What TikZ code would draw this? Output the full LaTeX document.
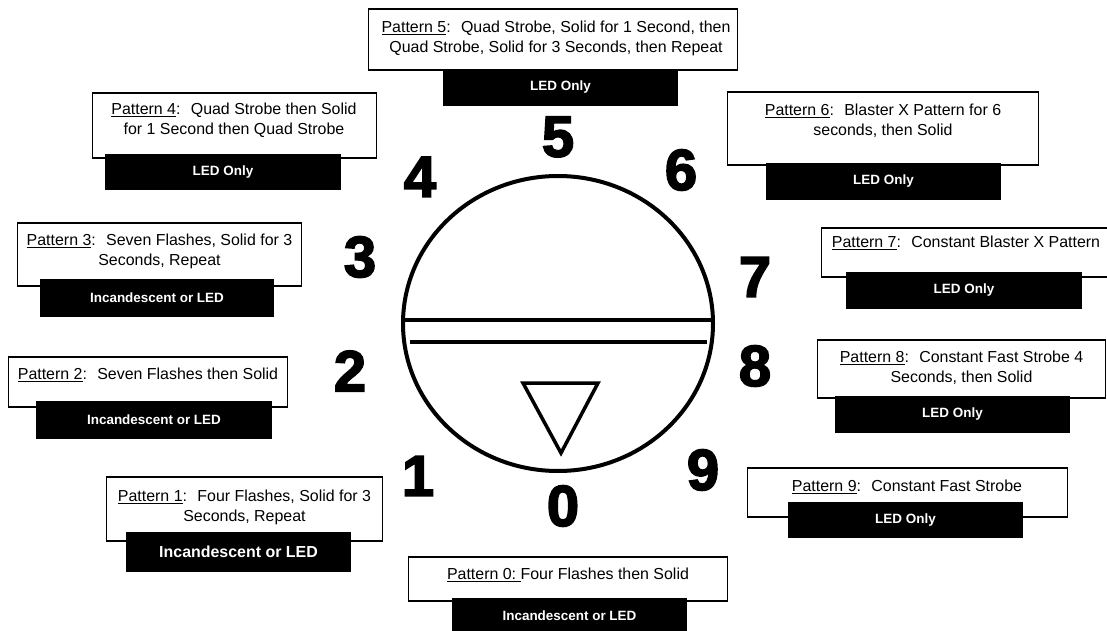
\documentclass[tikz,border=0pt]{standalone}
\usepackage{fontspec}
\setmainfont{Liberation Sans}
\newfontfamily\digitfont[FakeBold=3]{Liberation Sans}

\begin{document}
\begin{tikzpicture}[x=1bp,y=-1bp,
    patbox/.style={draw,line width=1.6bp,fill=white,inner sep=0pt},
    ledbox/.style={fill=black,text=white,inner sep=0pt,font=\bfseries\fontsize{13.5}{15}\selectfont},
    pattxt/.style={align=center,inner sep=0pt,font=\fontsize{16}{20}\selectfont},
    dialnum/.style={inner sep=0pt,font=\digitfont\bfseries\fontsize{58}{58}\selectfont}]
  \useasboundingbox (0,0) rectangle (1107,631);
  \clip (0,0) rectangle (1107,631);

  % dial
  \draw[line width=4bp] (558,323.5) ellipse [x radius=155,y radius=147.5];
  \begin{scope}
    \clip (558,323.5) ellipse [x radius=155,y radius=147.5];
    \draw[line width=4bp] (400,320) -- (716,320);
  \end{scope}
  \draw[line width=4bp] (410,342) -- (707,342);
  \draw[line width=3.5bp,line join=miter] (523,383) -- (598,383) -- (561,453) -- cycle;

  % dial positions
  \node[dialnum] (n0) at (563,506) {0};
  \node[dialnum] (n1) at (418,476) {1};
  \node[dialnum] (n2) at (350,371) {2};
  \node[dialnum] (n3) at (360,257) {3};
  \node[dialnum] (n4) at (420,177) {4};
  \node[dialnum] (n5) at (558,137) {5};
  \node[dialnum] (n6) at (681,170) {6};
  \node[dialnum] (n7) at (755,277) {7};
  \node[dialnum] (n8) at (755,366) {8};
  \node[dialnum] (n9) at (703,470) {9};

  % pattern 5
  \node[patbox,minimum width=370,minimum height=61] (p5) at (553,39.5) {};
  \node[pattxt] (p5t) at (556,38)
    {\underline{Pattern 5}:~ Quad Strobe, Solid for 1 Second, then\\Quad Strobe, Solid for 3 Seconds, then Repeat};
  \node[ledbox,minimum width=235,minimum height=37] (l5) at (560.5,87.5) {LED Only};

  % pattern 4
  \node[patbox,minimum width=285,minimum height=65] (p4) at (234.5,125.5) {};
  \node[pattxt] (p4t) at (234,120)
    {\underline{Pattern 4}:~ Quad Strobe then Solid\\for 1 Second then Quad Strobe};
  \node[ledbox,minimum width=236,minimum height=36] (l4) at (223,172) {LED Only};

  % pattern 3
  \node[patbox,minimum width=285,minimum height=63] (p3) at (159.5,254.5) {};
  \node[pattxt] (p3t) at (159.5,251)
    {\underline{Pattern 3}:~ Seven Flashes, Solid for 3\\Seconds, Repeat};
  \node[ledbox,minimum width=234,minimum height=38] (l3) at (157,298) {Incandescent or LED};

  % pattern 2
  \node[patbox,minimum width=280,minimum height=50] (p2) at (148,382) {};
  \node[pattxt] (p2t) at (148,375) {\underline{Pattern 2}:~ Seven Flashes then Solid};
  \node[ledbox,minimum width=236,minimum height=38] (l2) at (154,420) {Incandescent or LED};

  % pattern 1
  \node[patbox,minimum width=277,minimum height=64] (p1) at (244.5,509) {};
  \node[pattxt] (p1t) at (244.5,507)
    {\underline{Pattern 1}:~ Four Flashes, Solid for 3\\Seconds, Repeat};
  \node[ledbox,minimum width=225,minimum height=40,font=\bfseries\fontsize{16}{18}\selectfont] (l1)
    at (238.5,552) {Incandescent or LED};

  % pattern 0
  \node[patbox,minimum width=320,minimum height=44] (p0) at (568,579) {};
  \node[pattxt] (p0t) at (568,575) {\underline{Pattern 0:\ }Four Flashes then Solid};
  \node[ledbox,minimum width=235,minimum height=36] (l0) at (569.5,616) {Incandescent or LED};

  % pattern 6
  \node[patbox,minimum width=312,minimum height=73] (p6) at (883,128.5) {};
  \node[pattxt] (p6t) at (883,120.5)
    {\underline{Pattern 6}:~ Blaster X Pattern for 6\\seconds, then Solid};
  \node[ledbox,minimum width=235,minimum height=37] (l6) at (883.5,181.5) {LED Only};

  % pattern 7
  \node[patbox,minimum width=291,minimum height=49] (p7) at (966.5,252.5) {};
  \node[pattxt] (p7t) at (966,243) {\underline{Pattern 7}:~ Constant Blaster X Pattern};
  \node[ledbox,minimum width=236,minimum height=37] (l7) at (964,290.5) {LED Only};

  % pattern 8
  \node[patbox,minimum width=289,minimum height=58] (p8) at (961.5,369) {};
  \node[pattxt] (p8t) at (961.5,367.5)
    {\underline{Pattern 8}:~ Constant Fast Strobe 4\\Seconds, then Solid};
  \node[ledbox,minimum width=235,minimum height=37] (l8) at (952.5,414.5) {LED Only};

  % pattern 9
  \node[patbox,minimum width=321,minimum height=49] (p9) at (907.5,492.5) {};
  \node[pattxt] (p9t) at (907,487) {\underline{Pattern 9}:~ Constant Fast Strobe};
  \node[ledbox,minimum width=235,minimum height=36] (l9) at (905.5,520) {LED Only};
\end{tikzpicture}
\end{document}
